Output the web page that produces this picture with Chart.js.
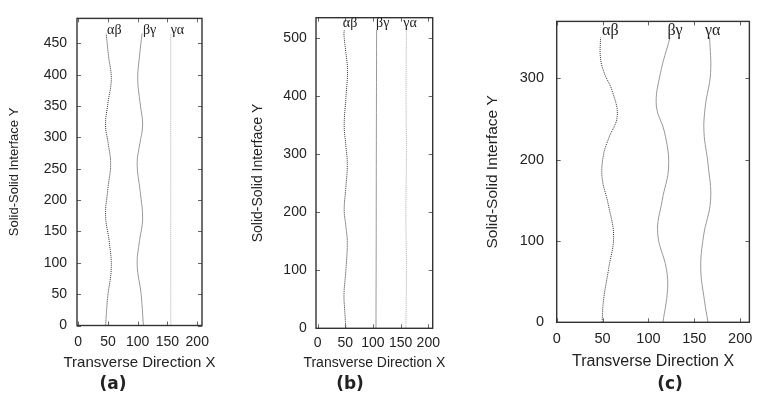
<!DOCTYPE html>
<html>
<head>
<meta charset="utf-8">
<script src="https://cdn.jsdelivr.net/npm/chart.js@4.4.1/dist/chart.umd.min.js"></script>
<style>
  body { margin: 0; background: #fff; width: 761px; height: 404px; position: relative; overflow: hidden; }
  .panel { position: absolute; top: 0; }
  .panel canvas { display: block; }
  .tag { position: absolute; font: bold 17px "DejaVu Sans", sans-serif; color: #222; transform: translate(-50%, -50%); }
</style>
</head>
<body>
<div class="panel" style="left:0"><canvas id="chartA" width="240" height="404"></canvas></div>
<div class="panel" style="left:240px"><canvas id="chartB" width="240" height="404"></canvas></div>
<div class="panel" style="left:480px"><canvas id="chartC" width="281" height="404"></canvas></div>
<div class="tag" style="left:113px;top:383px">(a)</div>
<div class="tag" style="left:350px;top:383px">(b)</div>
<div class="tag" style="left:670px;top:383px">(c)</div>
<script>
const curveNames = ['αβ', 'βγ', 'γα'];
const xTicks = [0, 50, 100, 150, 200];
const xTitle = 'Transverse Direction X';
const yTitle = 'Solid-Solid Interface Y';

// (a)
const aTicksY = [0, 50, 100, 150, 200, 250, 300, 350, 400, 450];
const aAlphaBetaY = [0, 45, 92, 135, 175, 215, 258, 290, 320, 355, 393, 430, 466];
const aAlphaBetaX = [46, 49.5, 55.6, 52, 46, 49.5, 54.5, 50.5, 46, 50, 55.6, 51, 47];
const aBetaGammaY = [0, 51, 97, 135, 170, 215, 258, 290, 320, 355, 393, 430, 466];
const aBetaGammaX = [109.5, 105.6, 99, 103, 108.3, 104, 99, 103.5, 108.3, 104, 100, 103, 107.3];
const aGammaAlphaY = [0, 466];
const aGammaAlphaX = [155.6, 155.6];
const aLabelX = [60.7, 120, 166.7];
const aLabelY = [471, 471, 471];

// (b)
const bTicksY = [0, 100, 200, 300, 400, 500];
const bAlphaBetaY = [0, 30, 58, 100, 148, 176, 204, 243, 282, 315, 349, 396, 444, 475, 505, 514];
const bAlphaBetaX = [51, 49, 47.6, 51, 53.6, 51, 48, 51, 53.6, 51, 48, 51, 54, 51, 47.6, 48];
const bBetaGammaY = [0, 130, 260, 390, 514];
const bBetaGammaX = [105.4, 105.8, 106, 106.3, 106.6];
const bGammaAlphaY = [0, 100, 200, 300, 400, 514];
const bGammaAlphaX = [159.5, 160.5, 159.5, 160.5, 159.8, 160.5];
const bLabelX = [58.6, 117.7, 167];
const bLabelY = [525, 525, 525];

// (c)
const cTicksY = [0, 100, 200, 300];
const cAlphaBetaY = [0, 27, 66, 106, 146, 178, 206, 226, 254, 286, 306, 325, 350];
const cAlphaBetaX = [49.5, 51, 56.6, 62, 56, 49.5, 51, 56.6, 66, 60, 52, 47.7, 47.7];
const cBetaGammaY = [0, 40, 66, 110, 150, 192, 234, 266, 306, 350];
const cBetaGammaX = [115.8, 120.8, 119.5, 110, 115, 122, 117.5, 108.6, 113, 123.5];
const cGammaAlphaY = [0, 27, 66, 106, 150, 194, 234, 266, 306, 350];
const cGammaAlphaX = [164.9, 161, 157, 160, 167.7, 165, 160.5, 162, 167.7, 166.7];
const cLabelX = [58.5, 129, 170];
const cLabelY = [358, 358, 358];

const SANS = '"Liberation Sans", Arial, sans-serif';
const SERIF = '"Liberation Serif", "Times New Roman", serif';

// box around the plot, short inward ticks on all four sides, curve names,
// and the x title (drawn here so it may run wider than the narrow plot)
const framePlugin = {
  id: 'frame',
  afterDatasetsDraw(chart, args, opts) {
    const { ctx, chartArea: a, scales: { x, y } } = chart;
    ctx.save();
    ctx.strokeStyle = '#666';
    ctx.lineWidth = 1;
    ctx.beginPath();
    x.ticks.forEach(t => {
      const px = Math.round(x.getPixelForValue(t.value)) + 0.5;
      ctx.moveTo(px, a.bottom); ctx.lineTo(px, a.bottom - 4);
      ctx.moveTo(px, a.top); ctx.lineTo(px, a.top + 4);
    });
    y.ticks.forEach(t => {
      const py = Math.round(y.getPixelForValue(t.value)) + 0.5;
      ctx.moveTo(a.left, py); ctx.lineTo(a.left + 4, py);
      ctx.moveTo(a.right, py); ctx.lineTo(a.right - 4, py);
    });
    ctx.stroke();
    ctx.strokeStyle = '#333';
    ctx.lineWidth = 1.4;
    ctx.strokeRect(a.left, a.top, a.width, a.height);

    ctx.fillStyle = '#222';
    ctx.textAlign = 'center';
    ctx.textBaseline = 'middle';
    ctx.font = opts.labelSize + 'px ' + SERIF;
    opts.labelX.forEach((v, i) => {
      ctx.fillText(curveNames[i], x.getPixelForValue(v), y.getPixelForValue(opts.labelY[i]));
    });
    ctx.font = opts.xTitleSize + 'px ' + SANS;
    ctx.fillText(xTitle, (a.left + a.right) / 2, a.bottom + opts.xTitleGap);
    ctx.restore();
  }
};

function pairs(xs, ys) {
  return ys.map((v, i) => ({ x: xs[i], y: v }));
}

function buildChart(id, cfg) {
  const styles = [
    { color: '#333333', dash: [1, 1] },
    { color: '#999999', dash: [] },
    cfg.thirdDotted ? { color: '#aaaaaa', dash: [1, 1] } : { color: '#999999', dash: [] }
  ];
  return new Chart(document.getElementById(id), {
    type: 'scatter',
    data: {
      datasets: cfg.series.map((s, i) => ({
        label: curveNames[i],
        data: pairs(s[0], s[1]),
        showLine: true,
        borderColor: styles[i].color,
        borderDash: styles[i].dash,
        borderWidth: 1,
        pointRadius: 0,
        tension: 0.4,
        fill: false
      }))
    },
    options: {
      responsive: false,
      animation: false,
      events: [],
      layout: { padding: { top: cfg.top, right: cfg.right, bottom: 30, left: 0 } },
      plugins: {
        legend: { display: false },
        tooltip: { enabled: false },
        frame: { labelX: cfg.labelX, labelY: cfg.labelY, labelSize: cfg.labelSize,
                 xTitleSize: cfg.xTitleSize, xTitleGap: cfg.xTitleGap }
      },
      scales: {
        x: {
          type: 'linear',
          min: cfg.xMin,
          max: cfg.xMax,
          afterBuildTicks: s => { s.ticks = xTicks.map(v => ({ value: v })); },
          afterFit: s => { s.height = cfg.xAxisHeight; },
          grid: { display: false, drawTicks: false },
          border: { display: false },
          ticks: { autoSkip: false, maxRotation: 0, padding: cfg.xTickPad, color: '#222', font: { family: SANS, size: cfg.tickSize } },
          title: { display: false }
        },
        y: {
          type: 'linear',
          min: 0,
          max: cfg.yMax,
          afterBuildTicks: s => { s.ticks = cfg.yTicks.map(v => ({ value: v })); },
          afterFit: s => { s.width = cfg.yAxisWidth; },
          grid: { display: false, drawTicks: false },
          border: { display: false },
          ticks: { autoSkip: false, padding: cfg.yTickPad, color: '#222', font: { family: SANS, size: cfg.tickSize } },
          title: { display: true, text: yTitle, color: '#222',
                   font: { family: SANS, size: cfg.yTitleSize }, padding: { top: cfg.yTitlePad, bottom: 0 } }
        }
      }
    },
    plugins: [framePlugin]
  });
}

buildChart('chartA', {
  series: [[aAlphaBetaX, aAlphaBetaY], [aBetaGammaX, aBetaGammaY], [aGammaAlphaX, aGammaAlphaY]],
  thirdDotted: true,
  labelX: aLabelX, labelY: aLabelY, labelSize: 14,
  xMin: -2, xMax: 208, yMax: 490, yTicks: aTicksY,
  top: 11, right: 38, yAxisWidth: 77, xAxisHeight: 48.5,
  tickSize: 14, xTickPad: 7.8, yTickPad: 10,
  xTitleSize: 15, xTitleGap: 37.8, yTitleSize: 13, yTitlePad: 7
});

buildChart('chartB', {
  series: [[bAlphaBetaX, bAlphaBetaY], [bBetaGammaX, bBetaGammaY], [bGammaAlphaX, bGammaAlphaY]],
  thirdDotted: true,
  labelX: bLabelX, labelY: bLabelY, labelSize: 14,
  xMin: -3, xMax: 208, yMax: 535, yTicks: bTicksY,
  top: 10, right: 47.3, yAxisWidth: 76, xAxisHeight: 45.7,
  tickSize: 14, xTickPad: 6.6, yTickPad: 9.3,
  xTitleSize: 14, xTitleGap: 35, yTitleSize: 14, yTitlePad: 9.9
});

buildChart('chartC', {
  series: [[cAlphaBetaX, cAlphaBetaY], [cBetaGammaX, cBetaGammaY], [cGammaAlphaX, cGammaAlphaY]],
  thirdDotted: false,
  labelX: cLabelX, labelY: cLabelY, labelSize: 16,
  xMin: 0, xMax: 210, yMax: 370, yTicks: cTicksY,
  top: 12.7, right: 8.3, yAxisWidth: 76.7, xAxisHeight: 51.7,
  tickSize: 14.5, xTickPad: 8.3, yTickPad: 12.7,
  xTitleSize: 16, xTitleGap: 39.4, yTitleSize: 15.5, yTitlePad: 3.7
});
</script>
</body>
</html>
